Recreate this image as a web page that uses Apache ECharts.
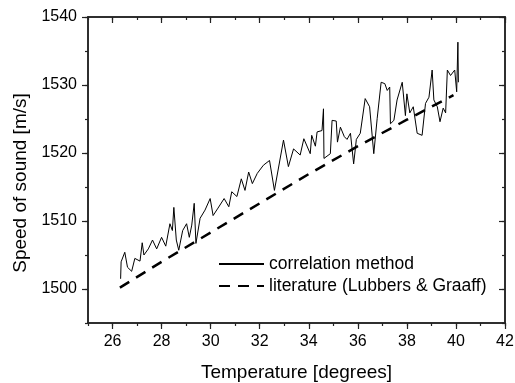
<!DOCTYPE html>
<html>
<head>
<meta charset="utf-8">
<script src="https://cdn.jsdelivr.net/npm/echarts@6/dist/echarts.min.js"></script>
<style>
  html, body { margin: 0; padding: 0; background: #fff; }
  #main { width: 515px; height: 383px; }
</style>
</head>
<body>
<div id="main"></div>
<script>
// measured speed of sound, [temperature, m/s]
var correlation = [
  [26.33, 1501.5], [26.35, 1504.0], [26.5, 1505.4], [26.61, 1503.2], [26.78, 1502.6],
  [26.91, 1504.5], [27.12, 1504.1], [27.21, 1506.8], [27.28, 1505.0], [27.46, 1505.9],
  [27.63, 1507.2], [27.8, 1505.9], [28.0, 1507.6], [28.17, 1506.3], [28.34, 1509.6],
  [28.44, 1508.6], [28.5, 1512.0], [28.6, 1507.2], [28.7, 1505.7], [28.86, 1508.6],
  [29.02, 1509.6], [29.13, 1507.6], [29.23, 1509.4], [29.33, 1512.6], [29.4, 1506.7],
  [29.57, 1510.4], [29.77, 1511.6], [29.98, 1513.3], [30.1, 1510.8], [30.3, 1511.9],
  [30.55, 1513.3], [30.74, 1512.1], [30.86, 1514.3], [31.07, 1513.6], [31.25, 1516.2],
  [31.4, 1514.5], [31.55, 1517.2], [31.7, 1515.5], [31.9, 1517.0], [32.15, 1518.2],
  [32.4, 1518.9], [32.6, 1514.5], [32.97, 1521.9], [33.17, 1518.0], [33.38, 1520.6],
  [33.65, 1519.7], [33.8, 1522.1], [34.06, 1519.9], [34.12, 1522.6], [34.27, 1521.0],
  [34.34, 1523.1], [34.54, 1523.3], [34.6, 1526.5], [34.62, 1519.2], [34.88, 1519.9],
  [34.95, 1524.8], [35.12, 1524.7], [35.17, 1521.6], [35.29, 1523.8], [35.45, 1522.4],
  [35.56, 1522.0], [35.7, 1522.9], [35.83, 1518.4], [35.94, 1522.0], [36.1, 1522.9],
  [36.3, 1528.0], [36.48, 1526.8], [36.65, 1519.9], [36.79, 1525.1], [36.95, 1530.4],
  [37.1, 1530.2], [37.2, 1529.2], [37.3, 1529.7], [37.33, 1524.3], [37.47, 1524.8],
  [37.6, 1527.8], [37.81, 1530.4], [37.94, 1525.5], [38.0, 1528.7], [38.12, 1525.9],
  [38.26, 1526.8], [38.42, 1522.9], [38.62, 1522.6], [38.76, 1527.3], [38.9, 1528.2],
  [39.03, 1532.2], [39.1, 1527.8], [39.24, 1526.8], [39.35, 1524.6], [39.48, 1526.6],
  [39.58, 1525.9], [39.65, 1532.2], [39.78, 1531.4], [39.95, 1532.2], [40.03, 1529.0],
  [40.08, 1536.3], [40.1, 1530.4]
];

// literature values (Lubbers & Graaff)
var literature = [
  [26.3, 1500.2], [28, 1504.0], [30, 1508.3], [32, 1512.6], [34, 1516.9],
  [36, 1521.0], [38, 1524.9], [39.9, 1528.5]
];

var xMajor = [26, 28, 30, 32, 34, 36, 38, 40, 42];
var yMajor = [1500, 1510, 1520, 1530, 1540];

var font = 'Liberation Sans, Arial, sans-serif';
var axisColor = '#222';

function xAxisDef(pos, inside, len, major) {
  return {
    type: 'value', position: pos, min: 25, max: 42, interval: 1,
    axisLine: { show: true, onZero: false, lineStyle: { color: axisColor, width: 1.5 } },
    axisTick: major
      ? { show: true, inside: inside, length: len, customValues: xMajor, lineStyle: { color: axisColor, width: 1.2 } }
      : { show: true, inside: inside, length: len, lineStyle: { color: axisColor, width: 1.2 } },
    axisLabel: { show: false },
    splitLine: { show: false }
  };
}
function yAxisDef(pos, inside, len, major) {
  return {
    type: 'value', position: pos, min: 1495, max: 1540, interval: 5,
    axisLine: { show: true, onZero: false, lineStyle: { color: axisColor, width: 1.5 } },
    axisTick: major
      ? { show: true, inside: inside, length: len, customValues: yMajor, lineStyle: { color: axisColor, width: 1.2 } }
      : { show: true, inside: inside, length: len, lineStyle: { color: axisColor, width: 1.2 } },
    axisLabel: { show: false },
    splitLine: { show: false }
  };
}

var chart = echarts.init(document.getElementById('main'));

var xMain = xAxisDef('bottom', false, 3, false);
xMain.name = 'Temperature [degrees]';
xMain.nameLocation = 'middle';
xMain.nameGap = 40;
xMain.nameTextStyle = { fontFamily: font, fontSize: 19, color: '#000' };
xMain.axisLabel = { show: true, customValues: xMajor, margin: 11, fontFamily: font, fontSize: 16, color: '#000' };

var yMain = yAxisDef('left', false, 3, false);
yMain.axisLabel = {
  show: true, customValues: yMajor, margin: 11, fontFamily: font, fontSize: 16, color: '#000',
  formatter: function (v) { return String(v); }
};

var option = {
  backgroundColor: '#fff',
  animation: false,
  grid: { left: 88, right: 10, top: 17, bottom: 60, outerBoundsMode: 'none' },
  graphic: [{
    type: 'text', x: 21, y: 183, rotation: Math.PI / 2,
    style: {
      text: 'Speed of sound [m/s]', fontFamily: font, fontSize: 19, fill: '#000',
      align: 'center', verticalAlign: 'middle'
    }
  }],
  legend: {
    orient: 'vertical',
    left: 213, top: 250,
    itemWidth: 45, itemHeight: 14, itemGap: 4,
    itemStyle: { opacity: 0 },
    textStyle: { fontFamily: font, fontSize: 17.5, color: '#000' },
    data: ['correlation method', 'literature (Lubbers & Graaff)']
  },
  xAxis: [
    xMain,
    xAxisDef('bottom', false, 6, true),
    xAxisDef('top', true, 3, false),
    xAxisDef('top', true, 6, true)
  ],
  yAxis: [
    yMain,
    yAxisDef('left', false, 6, true),
    yAxisDef('right', true, 3, false),
    yAxisDef('right', true, 6, true)
  ],
  series: [
    {
      name: 'correlation method', type: 'line', symbol: 'none',
      data: correlation,
      lineStyle: { color: '#000', width: 1 },
      itemStyle: { color: '#000' }
    },
    {
      name: 'literature (Lubbers & Graaff)', type: 'line', symbol: 'none',
      data: literature,
      lineStyle: { color: '#000', width: 2.5, type: [11, 8] },
      itemStyle: { color: '#000' }
    }
  ]
};
chart.setOption(option);
</script>
</body>
</html>
